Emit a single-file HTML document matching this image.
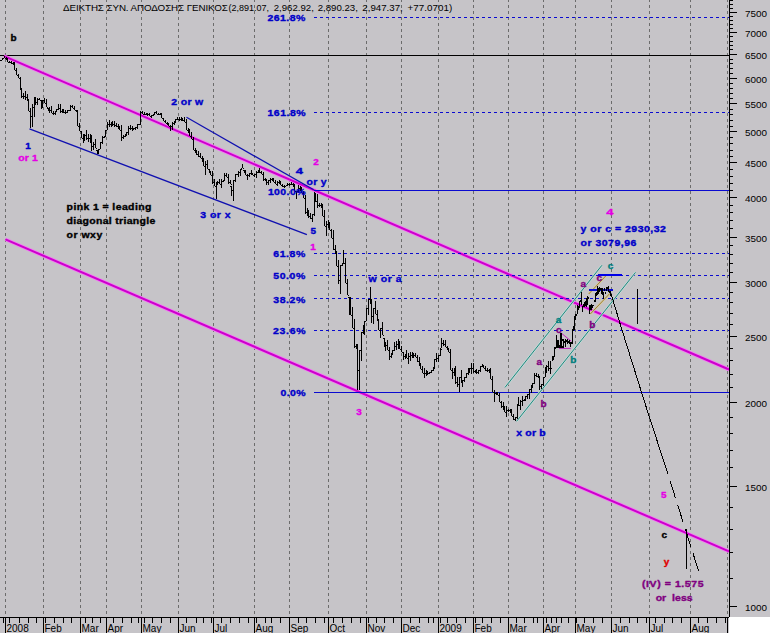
<!DOCTYPE html><html><head><meta charset="utf-8"><style>html,body{margin:0;padding:0;background:#c6c4c8;}svg{display:block}text{font-family:"Liberation Sans",sans-serif;white-space:pre}.b{font-weight:bold;font-size:10.5px;stroke-width:0.4px;stroke-linejoin:round}.r{font-size:10px}</style></head><body>
<svg width="770" height="633" viewBox="0 0 770 633" shape-rendering="crispEdges">
<rect x="0" y="0" width="770" height="633" fill="#c6c4c8"/>
<rect x="729" y="617" width="41" height="16" fill="#ffffff"/>
<path d="M5.5,-1V617 M43.5,-1V617 M80.5,-1V617 M106.5,-1V617 M141.5,-1V617 M178.5,-1V617 M213.5,-1V617 M254.5,-1V617 M289.5,-1V617 M328.5,-1V617 M366.5,-1V617 M401.5,-1V617 M438.5,-1V617 M473.5,-1V617 M508.5,-1V617 M543.5,-1V617 M575.5,-1V617 M611.5,-1V617 M649.5,-1V617 M690.5,-1V617 M727.5,-1V617" stroke="#6c6c6c" stroke-width="1" stroke-dasharray="3 3" fill="none"/>
<rect x="0" y="55" width="729" height="1" fill="#000"/>
<g shape-rendering="auto">
<line x1="4" y1="56.1" x2="729" y2="369.5" stroke="#f27af2" stroke-width="3.6"/>
<line x1="4" y1="56.1" x2="729" y2="369.5" stroke="#cc00cc" stroke-width="2"/>
<line x1="5.5" y1="239.4" x2="729" y2="551.4" stroke="#f27af2" stroke-width="3.6"/>
<line x1="5.5" y1="239.4" x2="729" y2="551.4" stroke="#cc00cc" stroke-width="2"/>
</g>
<path d="M314,17.5H729" stroke="#0a0ad0" stroke-width="1" stroke-dasharray="3 3" fill="none"/>
<path d="M314,112.5H729" stroke="#0a0ad0" stroke-width="1" stroke-dasharray="3 3" fill="none"/>
<path d="M314,253.5H729" stroke="#0a0ad0" stroke-width="1" stroke-dasharray="3 3" fill="none"/>
<path d="M314,275.5H729" stroke="#0a0ad0" stroke-width="1" stroke-dasharray="3 3" fill="none"/>
<path d="M314,298.5H729" stroke="#0a0ad0" stroke-width="1" stroke-dasharray="3 3" fill="none"/>
<path d="M314,330.5H729" stroke="#0a0ad0" stroke-width="1" stroke-dasharray="3 3" fill="none"/>
<rect x="314" y="190" width="415" height="1" fill="#0a0ad0"/>
<rect x="314" y="392" width="415" height="1" fill="#0a0ad0"/>
<g shape-rendering="auto">
<line x1="29.5" y1="128.8" x2="306.9" y2="234.7" stroke="#1010b0" stroke-width="1.25"/>
<line x1="186.5" y1="117.3" x2="313.7" y2="189.8" stroke="#1010b0" stroke-width="1.25"/>
<line x1="505" y1="387.4" x2="601.9" y2="265.3" stroke="#c0dcd8" stroke-width="2.2"/>
<line x1="505" y1="387.4" x2="601.9" y2="265.3" stroke="#107870" stroke-width="0.9"/>
<line x1="516.6" y1="421.3" x2="635.5" y2="272.4" stroke="#c0dcd8" stroke-width="2.2"/>
<line x1="516.6" y1="421.3" x2="635.5" y2="272.4" stroke="#107870" stroke-width="0.9"/>
<line x1="588.7" y1="294" x2="605.7" y2="276" stroke="#d8cc9c" stroke-width="2.4"/>
<line x1="588.7" y1="294" x2="605.7" y2="276" stroke="#9a7c40" stroke-width="1"/>
<line x1="590.3" y1="314" x2="609.8" y2="293.5" stroke="#d8cc9c" stroke-width="2.4"/>
<line x1="590.3" y1="314" x2="609.8" y2="293.5" stroke="#9a7c40" stroke-width="1"/>
<line x1="561.4" y1="333.2" x2="571.3" y2="341.3" stroke="#c020c0" stroke-width="1"/>
<line x1="559" y1="348.4" x2="570.8" y2="348.4" stroke="#c020c0" stroke-width="1"/>
<polyline points="609.7,289.5 622,330 643.9,400 667.8,473.8" stroke="#000" stroke-width="1" fill="none" shape-rendering="crispEdges"/>
<line x1="667.8" y1="473.8" x2="698.5" y2="570.7" stroke="#000" stroke-width="1" stroke-dasharray="18.5 7" stroke-dashoffset="18.5" shape-rendering="crispEdges"/>
</g>
<rect x="637" y="289" width="1" height="35" fill="#000"/>
<rect x="686" y="529" width="1" height="40" fill="#000"/>
<rect x="598" y="274" width="24" height="2" fill="#0000e8"/>
<rect x="589" y="289" width="24" height="2" fill="#0a0ad0"/>
<path d="M0,60h1v1h-1zM1,60h1v1h-1zM1,60h1v1h-1zM2,58h1v2h-1zM3,58h1v1h-1zM3,58h1v1h-1zM4,56h1v2h-1zM5,58h1v1h-1zM5,58h1v1h-1zM6,57h1v2h-1zM6,59h1v1h-1zM7,59h1v1h-1zM7,58h1v4h-1zM8,62h1v1h-1zM8,62h1v1h-1zM9,61h1v2h-1zM10,62h1v1h-1zM10,62h1v1h-1zM11,61h1v3h-1zM12,63h1v1h-1zM12,63h1v1h-1zM13,62h1v2h-1zM13,64h1v1h-1zM14,64h1v1h-1zM14,62h1v8h-1zM15,70h1v1h-1zM15,70h1v1h-1zM16,68h1v7h-1zM17,75h1v1h-1zM17,75h1v1h-1zM18,74h1v4h-1zM19,78h1v1h-1zM19,78h1v1h-1zM20,77h1v12h-1zM20,89h1v1h-1zM21,89h1v1h-1zM21,88h1v10h-1zM22,96h1v1h-1zM22,96h1v1h-1zM23,93h1v6h-1zM24,96h1v1h-1zM24,96h1v1h-1zM25,91h1v9h-1zM26,97h1v1h-1zM26,97h1v1h-1zM27,94h1v6h-1zM27,100h1v1h-1zM28,100h1v1h-1zM28,99h1v12h-1zM29,111h1v1h-1zM29,111h1v1h-1zM30,108h1v20h-1zM31,116h1v1h-1zM31,116h1v1h-1zM32,104h1v23h-1zM33,107h1v1h-1zM33,107h1v1h-1zM34,97h1v20h-1zM34,101h1v1h-1zM35,101h1v1h-1zM35,97h1v8h-1zM36,102h1v1h-1zM36,102h1v1h-1zM37,98h1v7h-1zM38,99h1v1h-1zM38,99h1v1h-1zM39,98h1v2h-1zM40,100h1v1h-1zM40,100h1v1h-1zM41,100h1v9h-1zM41,104h1v1h-1zM42,104h1v1h-1zM42,100h1v8h-1zM43,100h1v1h-1zM43,100h1v1h-1zM44,98h1v5h-1zM45,103h1v1h-1zM45,103h1v1h-1zM46,99h1v8h-1zM47,107h1v1h-1zM47,108h1v1h-1zM48,108h1v3h-1zM48,110h1v1h-1zM49,110h1v1h-1zM49,107h1v6h-1zM50,110h1v1h-1zM50,110h1v1h-1zM51,106h1v7h-1zM52,113h1v1h-1zM52,113h1v1h-1zM53,111h1v4h-1zM54,113h1v1h-1zM54,113h1v1h-1zM55,111h1v4h-1zM55,111h1v1h-1zM56,111h1v1h-1zM56,109h1v2h-1zM57,109h1v1h-1zM57,109h1v1h-1zM58,104h1v6h-1zM59,108h1v1h-1zM59,108h1v1h-1zM60,104h1v9h-1zM61,111h1v1h-1zM61,111h1v1h-1zM62,109h1v4h-1zM62,111h1v1h-1zM63,111h1v1h-1zM63,109h1v4h-1zM64,112h1v1h-1zM64,112h1v1h-1zM65,110h1v4h-1zM66,112h1v1h-1zM66,112h1v1h-1zM67,110h1v3h-1zM68,110h1v1h-1zM68,110h1v1h-1zM69,110h1v1h-1zM69,110h1v1h-1zM70,110h1v1h-1zM70,105h1v5h-1zM71,106h1v1h-1zM71,106h1v1h-1zM72,105h1v3h-1zM73,108h1v1h-1zM73,108h1v1h-1zM74,106h1v4h-1zM75,110h1v1h-1zM75,110h1v1h-1zM76,110h1v1h-1zM76,111h1v1h-1zM77,111h1v1h-1zM77,110h1v16h-1zM78,126h1v1h-1zM78,126h1v1h-1zM79,123h1v8h-1zM80,131h1v1h-1zM80,131h1v1h-1zM81,131h1v7h-1zM82,138h1v1h-1zM82,138h1v1h-1zM83,134h1v9h-1zM83,138h1v1h-1zM84,138h1v1h-1zM84,134h1v7h-1zM85,135h1v1h-1zM85,135h1v1h-1zM86,130h1v10h-1zM87,138h1v1h-1zM87,138h1v1h-1zM88,134h1v8h-1zM89,138h1v1h-1zM89,138h1v1h-1zM90,134h1v8h-1zM90,142h1v1h-1zM91,142h1v1h-1zM91,135h1v16h-1zM92,146h1v1h-1zM92,146h1v1h-1zM93,142h1v8h-1zM94,144h1v1h-1zM94,144h1v1h-1zM95,139h1v9h-1zM96,148h1v1h-1zM96,150h1v1h-1zM97,150h1v4h-1zM97,152h1v1h-1zM98,152h1v1h-1zM98,149h1v5h-1zM99,149h1v1h-1zM99,149h1v1h-1zM100,142h1v7h-1zM101,142h1v1h-1zM101,142h1v1h-1zM102,136h1v8h-1zM103,137h1v1h-1zM103,137h1v1h-1zM104,136h1v2h-1zM104,136h1v1h-1zM105,136h1v1h-1zM105,130h1v7h-1zM106,130h1v1h-1zM106,130h1v1h-1zM107,122h1v8h-1zM108,124h1v1h-1zM108,124h1v1h-1zM109,120h1v7h-1zM110,124h1v1h-1zM110,124h1v1h-1zM111,122h1v5h-1zM111,124h1v1h-1zM112,124h1v1h-1zM112,121h1v5h-1zM113,124h1v1h-1zM113,124h1v1h-1zM114,121h1v6h-1zM115,125h1v1h-1zM115,125h1v1h-1zM116,123h1v4h-1zM117,126h1v1h-1zM117,126h1v1h-1zM118,124h1v4h-1zM118,128h1v1h-1zM119,128h1v1h-1zM119,126h1v4h-1zM120,130h1v1h-1zM120,130h1v1h-1zM121,125h1v16h-1zM122,137h1v1h-1zM122,137h1v1h-1zM123,135h1v4h-1zM124,136h1v1h-1zM124,136h1v1h-1zM125,134h1v3h-1zM125,134h1v1h-1zM126,134h1v1h-1zM126,132h1v4h-1zM127,132h1v1h-1zM127,132h1v1h-1zM128,126h1v9h-1zM129,128h1v1h-1zM129,128h1v1h-1zM130,125h1v5h-1zM131,128h1v1h-1zM131,128h1v1h-1zM132,126h1v5h-1zM132,129h1v1h-1zM133,129h1v1h-1zM133,128h1v2h-1zM134,128h1v1h-1zM134,128h1v1h-1zM135,127h1v3h-1zM136,127h1v1h-1zM136,127h1v1h-1zM137,124h1v5h-1zM138,124h1v1h-1zM138,124h1v1h-1zM139,124h1v1h-1zM139,124h1v1h-1zM140,124h1v1h-1zM140,111h1v13h-1zM141,112h1v1h-1zM141,112h1v1h-1zM142,111h1v3h-1zM143,114h1v1h-1zM143,114h1v1h-1zM144,112h1v3h-1zM145,114h1v1h-1zM145,114h1v1h-1zM146,113h1v2h-1zM146,114h1v1h-1zM147,114h1v1h-1zM147,113h1v3h-1zM148,114h1v1h-1zM148,114h1v1h-1zM149,113h1v3h-1zM150,116h1v1h-1zM150,116h1v1h-1zM151,115h1v3h-1zM152,115h1v1h-1zM152,115h1v1h-1zM153,114h1v2h-1zM153,114h1v1h-1zM154,114h1v1h-1zM154,112h1v3h-1zM155,112h1v1h-1zM155,112h1v1h-1zM156,111h1v3h-1zM157,114h1v1h-1zM157,114h1v1h-1zM158,113h1v2h-1zM159,114h1v1h-1zM159,114h1v1h-1zM160,113h1v1h-1zM160,114h1v1h-1zM161,114h1v1h-1zM161,113h1v5h-1zM162,118h1v1h-1zM162,118h1v1h-1zM163,118h1v3h-1zM164,121h1v1h-1zM164,121h1v1h-1zM165,120h1v3h-1zM166,123h1v1h-1zM166,123h1v1h-1zM167,122h1v2h-1zM167,124h1v1h-1zM168,124h1v1h-1zM168,123h1v3h-1zM169,126h1v1h-1zM169,126h1v1h-1zM170,125h1v6h-1zM171,126h1v1h-1zM171,126h1v1h-1zM172,122h1v8h-1zM173,123h1v1h-1zM173,123h1v1h-1zM174,121h1v4h-1zM174,121h1v1h-1zM175,121h1v1h-1zM175,119h1v4h-1zM176,119h1v1h-1zM176,119h1v1h-1zM177,117h1v3h-1zM178,119h1v1h-1zM178,119h1v1h-1zM179,117h1v4h-1zM180,119h1v1h-1zM180,119h1v1h-1zM181,117h1v4h-1zM181,120h1v1h-1zM182,120h1v1h-1zM182,118h1v3h-1zM183,120h1v1h-1zM183,120h1v1h-1zM184,117h1v5h-1zM185,122h1v1h-1zM185,122h1v1h-1zM186,119h1v11h-1zM187,130h1v1h-1zM187,130h1v1h-1zM188,128h1v4h-1zM188,132h1v1h-1zM189,132h1v1h-1zM189,129h1v7h-1zM190,136h1v1h-1zM190,136h1v1h-1zM191,132h1v7h-1zM192,139h1v1h-1zM192,139h1v1h-1zM193,137h1v13h-1zM194,150h1v1h-1zM194,150h1v1h-1zM195,148h1v5h-1zM195,152h1v1h-1zM196,152h1v1h-1zM196,150h1v5h-1zM197,154h1v1h-1zM197,154h1v1h-1zM198,151h1v6h-1zM199,156h1v1h-1zM199,156h1v1h-1zM200,153h1v5h-1zM201,158h1v1h-1zM201,158h1v1h-1zM202,156h1v5h-1zM202,161h1v1h-1zM203,161h1v1h-1zM203,158h1v8h-1zM204,166h1v1h-1zM204,166h1v1h-1zM205,161h1v14h-1zM206,164h1v1h-1zM206,164h1v1h-1zM207,160h1v9h-1zM208,169h1v1h-1zM208,169h1v1h-1zM209,169h1v3h-1zM209,172h1v1h-1zM210,172h1v1h-1zM210,171h1v4h-1zM211,175h1v1h-1zM211,175h1v1h-1zM212,171h1v13h-1zM213,182h1v1h-1zM213,182h1v1h-1zM214,179h1v7h-1zM215,186h1v1h-1zM215,186h1v1h-1zM216,182h1v17h-1zM216,183h1v1h-1zM217,183h1v1h-1zM217,181h1v4h-1zM218,182h1v1h-1zM218,182h1v1h-1zM219,179h1v5h-1zM220,184h1v1h-1zM220,184h1v1h-1zM221,179h1v9h-1zM222,181h1v1h-1zM222,181h1v1h-1zM223,180h1v2h-1zM223,180h1v1h-1zM224,180h1v1h-1zM224,173h1v7h-1zM225,175h1v1h-1zM225,175h1v1h-1zM226,173h1v4h-1zM227,177h1v1h-1zM227,177h1v1h-1zM228,174h1v10h-1zM229,182h1v1h-1zM229,182h1v1h-1zM230,180h1v4h-1zM230,186h1v1h-1zM231,184h1v1h-1zM231,186h1v10h-1zM232,190h1v1h-1zM232,190h1v1h-1zM233,180h1v21h-1zM234,180h1v1h-1zM234,180h1v1h-1zM235,174h1v8h-1zM236,174h1v1h-1zM236,174h1v1h-1zM237,174h1v1h-1zM237,174h1v1h-1zM238,174h1v1h-1zM238,171h1v6h-1zM239,172h1v1h-1zM239,172h1v1h-1zM240,169h1v7h-1zM241,169h1v1h-1zM241,168h1v1h-1zM242,164h1v4h-1zM243,168h1v1h-1zM243,170h1v1h-1zM244,170h1v2h-1zM244,172h1v1h-1zM245,172h1v1h-1zM245,170h1v5h-1zM246,175h1v1h-1zM246,175h1v1h-1zM247,174h1v6h-1zM248,175h1v1h-1zM248,175h1v1h-1zM249,173h1v4h-1zM250,173h1v1h-1zM250,173h1v1h-1zM251,170h1v4h-1zM251,174h1v1h-1zM252,174h1v1h-1zM252,173h1v2h-1zM253,175h1v1h-1zM253,175h1v1h-1zM254,174h1v3h-1zM255,174h1v1h-1zM255,174h1v1h-1zM256,171h1v7h-1zM257,172h1v1h-1zM257,172h1v1h-1zM258,170h1v3h-1zM258,170h1v1h-1zM259,170h1v1h-1zM259,168h1v5h-1zM260,172h1v1h-1zM260,172h1v1h-1zM261,171h1v3h-1zM262,174h1v1h-1zM262,174h1v1h-1zM263,172h1v9h-1zM264,179h1v1h-1zM264,179h1v1h-1zM265,178h1v2h-1zM265,180h1v1h-1zM266,180h1v1h-1zM266,179h1v6h-1zM267,182h1v1h-1zM267,182h1v1h-1zM268,180h1v5h-1zM269,180h1v1h-1zM269,180h1v1h-1zM270,178h1v5h-1zM271,179h1v1h-1zM271,179h1v1h-1zM272,178h1v2h-1zM272,180h1v1h-1zM273,180h1v1h-1zM273,178h1v4h-1zM274,182h1v1h-1zM274,182h1v1h-1zM275,180h1v4h-1zM276,184h1v1h-1zM276,184h1v1h-1zM277,181h1v5h-1zM278,182h1v1h-1zM278,182h1v1h-1zM279,180h1v4h-1zM279,183h1v1h-1zM280,183h1v1h-1zM280,181h1v4h-1zM281,185h1v1h-1zM281,185h1v1h-1zM282,184h1v3h-1zM283,186h1v1h-1zM283,186h1v1h-1zM284,185h1v3h-1zM285,186h1v1h-1zM285,186h1v1h-1zM286,185h1v1h-1zM286,185h1v1h-1zM287,185h1v1h-1zM287,183h1v3h-1zM288,184h1v1h-1zM288,184h1v1h-1zM289,183h1v3h-1zM290,184h1v1h-1zM290,184h1v1h-1zM291,182h1v3h-1zM292,184h1v1h-1zM292,184h1v1h-1zM293,183h1v3h-1zM293,186h1v1h-1zM294,186h1v1h-1zM294,184h1v7h-1zM295,191h1v1h-1zM295,191h1v1h-1zM296,191h1v8h-1zM297,191h1v1h-1zM297,191h1v1h-1zM298,185h1v8h-1zM299,188h1v1h-1zM299,188h1v1h-1zM300,186h1v5h-1zM300,190h1v1h-1zM301,190h1v1h-1zM301,187h1v6h-1zM302,193h1v1h-1zM302,193h1v1h-1zM303,191h1v7h-1zM304,198h1v1h-1zM304,198h1v1h-1zM305,195h1v19h-1zM306,212h1v1h-1zM306,212h1v1h-1zM307,208h1v8h-1zM307,214h1v1h-1zM308,214h1v1h-1zM308,210h1v8h-1zM309,216h1v1h-1zM309,216h1v1h-1zM310,213h1v6h-1zM311,218h1v1h-1zM311,218h1v1h-1zM312,214h1v8h-1zM313,214h1v1h-1zM313,214h1v1h-1zM314,192h1v24h-1zM314,198h1v1h-1zM315,198h1v1h-1zM315,193h1v9h-1zM316,201h1v1h-1zM316,201h1v1h-1zM317,194h1v14h-1zM318,205h1v1h-1zM318,205h1v1h-1zM319,203h1v4h-1zM320,205h1v1h-1zM320,205h1v1h-1zM321,203h1v4h-1zM321,207h1v1h-1zM322,207h1v1h-1zM322,204h1v12h-1zM323,216h1v1h-1zM323,216h1v1h-1zM324,210h1v16h-1zM325,226h1v1h-1zM325,226h1v1h-1zM326,221h1v15h-1zM327,224h1v1h-1zM327,224h1v1h-1zM328,220h1v8h-1zM328,226h1v1h-1zM329,226h1v1h-1zM329,222h1v8h-1zM330,230h1v1h-1zM330,230h1v1h-1zM331,229h1v9h-1zM332,238h1v1h-1zM332,238h1v1h-1zM333,230h1v20h-1zM334,249h1v1h-1zM334,249h1v1h-1zM335,245h1v8h-1zM335,253h1v1h-1zM336,253h1v1h-1zM336,251h1v15h-1zM337,266h1v1h-1zM337,266h1v1h-1zM338,260h1v24h-1zM339,280h1v1h-1zM339,280h1v1h-1zM340,265h1v29h-1zM341,265h1v1h-1zM341,265h1v1h-1zM342,263h1v3h-1zM342,263h1v1h-1zM343,263h1v1h-1zM343,250h1v13h-1zM344,263h1v1h-1zM344,263h1v1h-1zM345,258h1v25h-1zM346,283h1v1h-1zM346,283h1v1h-1zM347,279h1v16h-1zM348,295h1v1h-1zM348,297h1v1h-1zM349,297h1v18h-1zM349,306h1v1h-1zM350,306h1v1h-1zM350,297h1v18h-1zM351,315h1v1h-1zM351,315h1v1h-1zM352,307h1v21h-1zM353,328h1v1h-1zM353,328h1v1h-1zM354,319h1v29h-1zM355,346h1v1h-1zM355,346h1v1h-1zM356,344h1v4h-1zM356,348h1v1h-1zM357,348h1v1h-1zM357,344h1v46h-1zM358,370h1v1h-1zM358,370h1v1h-1zM359,350h1v40h-1zM360,350h1v1h-1zM360,350h1v1h-1zM361,332h1v29h-1zM362,332h1v1h-1zM362,332h1v1h-1zM363,325h1v9h-1zM363,328h1v1h-1zM364,328h1v1h-1zM364,321h1v14h-1zM365,321h1v1h-1zM365,321h1v1h-1zM366,308h1v13h-1zM367,308h1v1h-1zM367,308h1v1h-1zM368,299h1v16h-1zM369,299h1v1h-1zM369,299h1v1h-1zM370,287h1v16h-1zM370,303h1v1h-1zM371,303h1v1h-1zM371,299h1v24h-1zM372,316h1v1h-1zM372,316h1v1h-1zM373,308h1v16h-1zM374,308h1v1h-1zM374,308h1v1h-1zM375,301h1v13h-1zM376,314h1v1h-1zM376,314h1v1h-1zM377,310h1v10h-1zM377,320h1v1h-1zM378,320h1v1h-1zM378,319h1v11h-1zM379,330h1v1h-1zM379,330h1v1h-1zM380,328h1v10h-1zM381,328h1v1h-1zM381,328h1v1h-1zM382,322h1v13h-1zM383,335h1v1h-1zM383,338h1v1h-1zM384,338h1v9h-1zM384,346h1v1h-1zM385,346h1v1h-1zM385,342h1v9h-1zM386,345h1v1h-1zM386,345h1v1h-1zM387,340h1v10h-1zM388,350h1v1h-1zM388,350h1v1h-1zM389,347h1v13h-1zM390,356h1v1h-1zM390,356h1v1h-1zM391,353h1v5h-1zM391,353h1v1h-1zM392,353h1v1h-1zM392,350h1v5h-1zM393,350h1v1h-1zM393,350h1v1h-1zM394,342h1v9h-1zM395,346h1v1h-1zM395,346h1v1h-1zM396,341h1v9h-1zM397,344h1v1h-1zM397,344h1v1h-1zM398,339h1v10h-1zM398,345h1v1h-1zM399,345h1v1h-1zM399,341h1v8h-1zM400,349h1v1h-1zM400,349h1v1h-1zM401,346h1v6h-1zM402,352h1v1h-1zM402,352h1v1h-1zM403,352h1v8h-1zM404,356h1v1h-1zM404,356h1v1h-1zM405,354h1v5h-1zM405,354h1v1h-1zM406,354h1v1h-1zM406,350h1v8h-1zM407,358h1v1h-1zM407,358h1v1h-1zM408,353h1v11h-1zM409,356h1v1h-1zM409,356h1v1h-1zM410,352h1v9h-1zM411,355h1v1h-1zM411,355h1v1h-1zM412,352h1v6h-1zM412,356h1v1h-1zM413,356h1v1h-1zM413,353h1v5h-1zM414,355h1v1h-1zM414,355h1v1h-1zM415,353h1v4h-1zM416,357h1v1h-1zM416,357h1v1h-1zM417,355h1v7h-1zM418,361h1v1h-1zM418,361h1v1h-1zM419,357h1v8h-1zM419,365h1v1h-1zM420,365h1v1h-1zM420,363h1v6h-1zM421,369h1v1h-1zM421,369h1v1h-1zM422,366h1v7h-1zM423,373h1v1h-1zM423,373h1v1h-1zM424,368h1v10h-1zM425,373h1v1h-1zM425,373h1v1h-1zM426,370h1v6h-1zM426,373h1v1h-1zM427,373h1v1h-1zM427,371h1v4h-1zM428,373h1v1h-1zM428,373h1v1h-1zM429,372h1v2h-1zM430,372h1v1h-1zM430,372h1v1h-1zM431,370h1v3h-1zM432,370h1v1h-1zM432,370h1v1h-1zM433,367h1v4h-1zM433,367h1v1h-1zM434,367h1v1h-1zM434,359h1v10h-1zM435,359h1v1h-1zM435,359h1v1h-1zM436,353h1v9h-1zM437,358h1v1h-1zM437,358h1v1h-1zM438,355h1v7h-1zM439,355h1v1h-1zM439,355h1v1h-1zM440,349h1v7h-1zM440,348h1v1h-1zM441,349h1v1h-1zM441,338h1v10h-1zM442,343h1v1h-1zM442,343h1v1h-1zM443,340h1v6h-1zM444,344h1v1h-1zM444,344h1v1h-1zM445,340h1v7h-1zM446,347h1v1h-1zM446,347h1v1h-1zM447,346h1v3h-1zM447,349h1v1h-1zM448,349h1v1h-1zM448,348h1v4h-1zM449,352h1v1h-1zM449,352h1v1h-1zM450,349h1v21h-1zM451,370h1v1h-1zM451,370h1v1h-1zM452,368h1v11h-1zM453,372h1v1h-1zM453,372h1v1h-1zM454,368h1v7h-1zM454,375h1v1h-1zM455,375h1v1h-1zM455,366h1v18h-1zM456,382h1v1h-1zM456,382h1v1h-1zM457,377h1v10h-1zM458,384h1v1h-1zM458,384h1v1h-1zM459,377h1v15h-1zM460,377h1v1h-1zM460,377h1v1h-1zM461,370h1v12h-1zM461,382h1v1h-1zM462,382h1v1h-1zM462,380h1v7h-1zM463,380h1v1h-1zM463,380h1v1h-1zM464,377h1v5h-1zM465,377h1v1h-1zM465,377h1v1h-1zM466,373h1v5h-1zM467,373h1v1h-1zM467,373h1v1h-1zM468,368h1v7h-1zM468,370h1v1h-1zM469,370h1v1h-1zM469,368h1v5h-1zM470,368h1v1h-1zM470,368h1v1h-1zM471,363h1v11h-1zM472,368h1v1h-1zM472,368h1v1h-1zM473,363h1v10h-1zM474,371h1v1h-1zM474,371h1v1h-1zM475,370h1v2h-1zM475,372h1v1h-1zM476,372h1v1h-1zM476,369h1v5h-1zM477,372h1v1h-1zM477,372h1v1h-1zM478,370h1v4h-1zM479,370h1v1h-1zM479,370h1v1h-1zM480,366h1v6h-1zM481,366h1v1h-1zM481,366h1v1h-1zM482,364h1v3h-1zM482,366h1v1h-1zM483,366h1v1h-1zM483,365h1v3h-1zM484,368h1v1h-1zM484,368h1v1h-1zM485,366h1v5h-1zM486,370h1v1h-1zM486,370h1v1h-1zM487,368h1v4h-1zM488,370h1v1h-1zM488,370h1v1h-1zM489,369h1v3h-1zM489,372h1v1h-1zM490,372h1v1h-1zM490,368h1v11h-1zM491,379h1v1h-1zM491,379h1v1h-1zM492,376h1v16h-1zM493,392h1v1h-1zM493,392h1v1h-1zM494,390h1v12h-1zM495,393h1v1h-1zM495,393h1v1h-1zM496,392h1v2h-1zM496,394h1v1h-1zM497,394h1v1h-1zM497,392h1v3h-1zM498,395h1v1h-1zM498,395h1v1h-1zM499,393h1v9h-1zM500,402h1v1h-1zM500,402h1v1h-1zM501,401h1v7h-1zM502,406h1v1h-1zM502,406h1v1h-1zM503,402h1v8h-1zM503,409h1v1h-1zM504,409h1v1h-1zM504,406h1v6h-1zM505,412h1v1h-1zM505,412h1v1h-1zM506,406h1v11h-1zM507,410h1v1h-1zM507,410h1v1h-1zM508,409h1v3h-1zM509,410h1v1h-1zM509,410h1v1h-1zM510,409h1v3h-1zM510,412h1v1h-1zM511,412h1v1h-1zM511,409h1v7h-1zM512,416h1v1h-1zM512,416h1v1h-1zM513,414h1v6h-1zM514,419h1v1h-1zM514,419h1v1h-1zM515,417h1v4h-1zM516,417h1v1h-1zM516,417h1v1h-1zM517,404h1v15h-1zM517,404h1v1h-1zM518,404h1v1h-1zM518,397h1v9h-1zM519,405h1v1h-1zM519,405h1v1h-1zM520,400h1v10h-1zM521,401h1v1h-1zM521,401h1v1h-1zM522,396h1v10h-1zM523,400h1v1h-1zM523,400h1v1h-1zM524,399h1v2h-1zM524,399h1v1h-1zM525,399h1v1h-1zM525,396h1v5h-1zM526,396h1v1h-1zM526,396h1v1h-1zM527,394h1v5h-1zM528,394h1v1h-1zM528,394h1v1h-1zM529,389h1v10h-1zM530,389h1v1h-1zM530,389h1v1h-1zM531,385h1v8h-1zM531,386h1v1h-1zM532,386h1v1h-1zM532,383h1v5h-1zM533,383h1v1h-1zM533,383h1v1h-1zM534,373h1v11h-1zM535,375h1v1h-1zM535,375h1v1h-1zM536,373h1v4h-1zM537,376h1v1h-1zM537,376h1v1h-1zM538,374h1v3h-1zM538,377h1v1h-1zM539,377h1v1h-1zM539,376h1v14h-1zM540,386h1v1h-1zM540,386h1v1h-1zM541,384h1v5h-1zM542,384h1v1h-1zM542,384h1v1h-1zM543,377h1v9h-1zM544,377h1v1h-1zM544,377h1v1h-1zM545,367h1v10h-1zM545,369h1v1h-1zM546,369h1v1h-1zM546,365h1v8h-1zM547,366h1v1h-1zM547,366h1v1h-1zM548,361h1v10h-1zM549,368h1v1h-1zM549,368h1v1h-1zM550,361h1v13h-1zM551,368h1v1h-1zM552,356h1v5h-1zM553,356h1v4h-1zM554,347h1v10h-1zM555,347h1v2h-1zM556,335h1v13h-1zM557,340h1v8h-1zM558,340h1v8h-1zM559,345h1v3h-1zM560,333h1v15h-1zM561,333h1v15h-1zM562,339h1v2h-1zM562,346h1v2h-1zM563,339h1v9h-1zM564,341h1v2h-1zM565,339h1v8h-1zM566,340h1v2h-1zM567,339h1v5h-1zM568,341h1v2h-1zM569,340h1v4h-1zM570,342h1v5h-1zM571,342h1v2h-1zM572,329h1v15h-1zM573,326h1v5h-1zM574,316h1v14h-1zM575,314h1v6h-1zM576,314h1v2h-1zM577,305h1v9h-1zM578,306h1v4h-1zM579,301h1v7h-1zM580,300h1v2h-1zM581,292h1v13h-1zM582,306h1v6h-1zM583,304h1v3h-1zM584,302h1v5h-1zM585,301h1v5h-1zM586,298h1v9h-1zM587,296h1v9h-1zM588,297h1v2h-1zM589,305h1v9h-1zM590,305h1v5h-1zM591,304h1v6h-1zM592,305h1v3h-1zM593,305h1v1h-1zM594,300h1v2h-1zM595,293h1v9h-1zM596,292h1v4h-1zM597,286h1v9h-1zM598,288h1v6h-1zM599,287h1v5h-1zM600,288h1v2h-1zM601,288h1v6h-1zM602,288h1v7h-1zM603,292h1v7h-1zM604,288h1v3h-1zM605,292h1v2h-1zM606,287h1v4h-1zM607,287h1v2h-1zM608,286h1v6h-1zM609,291h1v2h-1zM610,293h1v3h-1z" fill="#000"/>
<rect x="729" y="0" width="1" height="617" fill="#000"/>
<rect x="0" y="617" width="729" height="1" fill="#000"/>
<path d="M730,606h7v1h-7zM730,578h3v1h-3zM730,552h3v1h-3zM730,529h3v1h-3zM730,507h3v1h-3zM730,486h7v1h-7zM730,467h3v1h-3zM730,450h3v1h-3zM730,433h3v1h-3zM730,417h3v1h-3zM730,402h7v1h-7zM730,387h3v1h-3zM730,374h3v1h-3zM730,360h3v1h-3zM730,348h3v1h-3zM730,336h7v1h-7zM730,324h3v1h-3zM730,313h3v1h-3zM730,302h3v1h-3zM730,292h3v1h-3zM730,282h7v1h-7zM730,272h3v1h-3zM730,263h3v1h-3zM730,254h3v1h-3zM730,245h3v1h-3zM730,237h7v1h-7zM730,228h3v1h-3zM730,220h3v1h-3zM730,212h3v1h-3zM730,205h3v1h-3zM730,197h7v1h-7zM730,190h3v1h-3zM730,183h3v1h-3zM730,176h3v1h-3zM730,169h3v1h-3zM730,162h7v1h-7zM730,156h3v1h-3zM730,150h3v1h-3zM730,143h3v1h-3zM730,137h3v1h-3zM730,131h7v1h-7zM730,126h3v1h-3zM730,120h3v1h-3zM730,114h3v1h-3zM730,109h3v1h-3zM730,103h7v1h-7zM730,98h3v1h-3zM730,93h3v1h-3zM730,88h3v1h-3zM730,83h3v1h-3zM730,78h7v1h-7zM730,73h3v1h-3zM730,68h3v1h-3zM730,63h3v1h-3zM730,59h3v1h-3zM730,54h7v1h-7zM730,49h3v1h-3zM730,45h3v1h-3zM730,41h3v1h-3zM730,36h3v1h-3zM730,32h7v1h-7zM730,28h3v1h-3zM730,24h3v1h-3zM730,20h3v1h-3zM730,16h3v1h-3zM730,12h7v1h-7zM730,8h3v1h-3zM730,4h3v1h-3zM730,0h3v1h-3z" fill="#000"/>
<text x="745" y="611" fill="#000" style="font-size:9.4px" textLength="22" lengthAdjust="spacingAndGlyphs">1000</text>
<text x="745" y="491" fill="#000" style="font-size:9.4px" textLength="22" lengthAdjust="spacingAndGlyphs">1500</text>
<text x="745" y="407" fill="#000" style="font-size:9.4px" textLength="22" lengthAdjust="spacingAndGlyphs">2000</text>
<text x="745" y="341" fill="#000" style="font-size:9.4px" textLength="22" lengthAdjust="spacingAndGlyphs">2500</text>
<text x="745" y="287" fill="#000" style="font-size:9.4px" textLength="22" lengthAdjust="spacingAndGlyphs">3000</text>
<text x="745" y="242" fill="#000" style="font-size:9.4px" textLength="22" lengthAdjust="spacingAndGlyphs">3500</text>
<text x="745" y="202" fill="#000" style="font-size:9.4px" textLength="22" lengthAdjust="spacingAndGlyphs">4000</text>
<text x="745" y="167" fill="#000" style="font-size:9.4px" textLength="22" lengthAdjust="spacingAndGlyphs">4500</text>
<text x="745" y="136" fill="#000" style="font-size:9.4px" textLength="22" lengthAdjust="spacingAndGlyphs">5000</text>
<text x="745" y="108" fill="#000" style="font-size:9.4px" textLength="22" lengthAdjust="spacingAndGlyphs">5500</text>
<text x="745" y="83" fill="#000" style="font-size:9.4px" textLength="22" lengthAdjust="spacingAndGlyphs">6000</text>
<text x="745" y="59" fill="#000" style="font-size:9.4px" textLength="22" lengthAdjust="spacingAndGlyphs">6500</text>
<text x="745" y="37" fill="#000" style="font-size:9.4px" textLength="22" lengthAdjust="spacingAndGlyphs">7000</text>
<text x="745" y="17" fill="#000" style="font-size:9.4px" textLength="22" lengthAdjust="spacingAndGlyphs">7500</text>
<path d="M5,618h1v15h-1zM43,618h1v15h-1zM80,618h1v15h-1zM106,618h1v15h-1zM141,618h1v15h-1zM178,618h1v15h-1zM213,618h1v15h-1zM254,618h1v15h-1zM289,618h1v15h-1zM328,618h1v15h-1zM366,618h1v15h-1zM401,618h1v15h-1zM438,618h1v15h-1zM473,618h1v15h-1zM508,618h1v15h-1zM543,618h1v15h-1zM575,618h1v15h-1zM611,618h1v15h-1zM649,618h1v15h-1zM690,618h1v15h-1zM727,618h1v15h-1zM3,618h1v5h-1zM9,618h1v5h-1zM19,618h1v5h-1zM28,618h1v5h-1zM36,618h1v5h-1zM45,618h1v5h-1zM54,618h1v5h-1zM63,618h1v5h-1zM71,618h1v5h-1zM85,618h1v5h-1zM92,618h1v5h-1zM100,618h1v5h-1zM113,618h1v5h-1zM122,618h1v5h-1zM131,618h1v5h-1zM138,618h1v5h-1zM144,618h1v5h-1zM152,618h1v5h-1zM161,618h1v5h-1zM170,618h1v5h-1zM186,618h1v5h-1zM196,618h1v5h-1zM203,618h1v5h-1zM211,618h1v5h-1zM221,618h1v5h-1zM230,618h1v5h-1zM239,618h1v5h-1zM248,618h1v5h-1zM256,618h1v5h-1zM265,618h1v5h-1zM271,618h1v5h-1zM280,618h1v5h-1zM298,618h1v5h-1zM306,618h1v5h-1zM315,618h1v5h-1zM324,618h1v5h-1zM333,618h1v5h-1zM342,618h1v5h-1zM351,618h1v5h-1zM360,618h1v5h-1zM368,618h1v5h-1zM376,618h1v5h-1zM384,618h1v5h-1zM393,618h1v5h-1zM410,618h1v5h-1zM419,618h1v5h-1zM428,618h1v5h-1zM433,618h1v5h-1zM440,618h1v5h-1zM447,618h1v5h-1zM456,618h1v5h-1zM465,618h1v5h-1zM475,618h1v5h-1zM482,618h1v5h-1zM491,618h1v5h-1zM500,618h1v5h-1zM516,618h1v5h-1zM524,618h1v5h-1zM533,618h1v5h-1zM537,618h1v5h-1zM546,618h1v5h-1zM551,618h1v5h-1zM556,618h1v5h-1zM561,618h1v5h-1zM568,618h1v5h-1zM576,618h1v5h-1zM584,618h1v5h-1zM593,618h1v5h-1zM602,618h1v5h-1zM620,618h1v5h-1zM629,618h1v5h-1zM637,618h1v5h-1zM646,618h1v5h-1zM655,618h1v5h-1zM664,618h1v5h-1zM672,618h1v5h-1zM681,618h1v5h-1zM698,618h1v5h-1zM707,618h1v5h-1zM716,618h1v5h-1zM725,618h1v5h-1z" fill="#000"/>
<text class="r" x="6.5" y="632" fill="#000">2008</text>
<text class="r" x="44.5" y="632" fill="#000">Feb</text>
<text class="r" x="81.5" y="632" fill="#000">Mar</text>
<text class="r" x="107.5" y="632" fill="#000">Apr</text>
<text class="r" x="142.5" y="632" fill="#000">May</text>
<text class="r" x="179.5" y="632" fill="#000">Jun</text>
<text class="r" x="214.5" y="632" fill="#000">Jul</text>
<text class="r" x="255.5" y="632" fill="#000">Aug</text>
<text class="r" x="290.5" y="632" fill="#000">Sep</text>
<text class="r" x="329.5" y="632" fill="#000">Oct</text>
<text class="r" x="367.5" y="632" fill="#000">Nov</text>
<text class="r" x="402.5" y="632" fill="#000">Dec</text>
<text class="r" x="439.5" y="632" fill="#000">2009</text>
<text class="r" x="474.5" y="632" fill="#000">Feb</text>
<text class="r" x="509.5" y="632" fill="#000">Mar</text>
<text class="r" x="544.5" y="632" fill="#000">Apr</text>
<text class="r" x="576.5" y="632" fill="#000">May</text>
<text class="r" x="612.5" y="632" fill="#000">Jun</text>
<text class="r" x="650.5" y="632" fill="#000">Jul</text>
<text class="r" x="691.5" y="632" fill="#000">Aug</text>
<text x="63" y="11" style="font-size:9.8px" fill="#000" textLength="164.8" lengthAdjust="spacing">ΔΕΙΚΤΗΣ ΣΥΝ. ΑΠΟΔΟΣΗΣ ΓΕΝΙΚΟΣ</text>
<text x="228.4" y="11" style="font-size:9.8px" fill="#000" textLength="40.5" lengthAdjust="spacingAndGlyphs">(2,891.07,</text>
<text x="273.7" y="11" style="font-size:9.8px" fill="#000" textLength="40.2" lengthAdjust="spacingAndGlyphs">2,962.92,</text>
<text x="317.7" y="11" style="font-size:9.8px" fill="#000" textLength="40.2" lengthAdjust="spacingAndGlyphs">2,890.23,</text>
<text x="362.3" y="11" style="font-size:9.8px" fill="#000" textLength="40.5" lengthAdjust="spacingAndGlyphs">2,947.37,</text>
<text x="407.6" y="11" style="font-size:9.8px" fill="#000" textLength="44.6" lengthAdjust="spacingAndGlyphs">+77.0701)</text>
<text class="b" transform="translate(267.4,21) scale(1,0.9)" fill="#0000c8" stroke="#0000c8" textLength="37.9" lengthAdjust="spacing" xml:space="preserve">261.8%</text>
<text class="b" transform="translate(267.5,116) scale(1,0.9)" fill="#0000c8" stroke="#0000c8" textLength="38.2" lengthAdjust="spacing" xml:space="preserve">161.8%</text>
<text class="b" transform="translate(267.9,195) scale(1,0.9)" fill="#0000c8" stroke="#0000c8" textLength="37.6" lengthAdjust="spacing" xml:space="preserve">100.0%</text>
<text class="b" transform="translate(273.3,257) scale(1,0.9)" fill="#0000c8" stroke="#0000c8" textLength="32.0" lengthAdjust="spacing" xml:space="preserve">61.8%</text>
<text class="b" transform="translate(273.3,279) scale(1,0.9)" fill="#0000c8" stroke="#0000c8" textLength="32.0" lengthAdjust="spacing" xml:space="preserve">50.0%</text>
<text class="b" transform="translate(273.3,303) scale(1,0.9)" fill="#0000c8" stroke="#0000c8" textLength="32.0" lengthAdjust="spacing" xml:space="preserve">38.2%</text>
<text class="b" transform="translate(273.0,334) scale(1,0.9)" fill="#0000c8" stroke="#0000c8" textLength="32.5" lengthAdjust="spacing" xml:space="preserve">23.6%</text>
<text class="b" transform="translate(280.5,396) scale(1,0.9)" fill="#0000c8" stroke="#0000c8" textLength="25.0" lengthAdjust="spacing" xml:space="preserve">0.0%</text>
<text class="b" transform="translate(10.4,41) scale(0.95,0.9)" fill="#000" stroke="#000">b</text>
<text class="b" transform="translate(25.3,149) scale(0.95,0.9)" fill="#0000c8" stroke="#0000c8">1</text>
<text class="b" transform="translate(18.3,161) scale(1,0.9)" fill="#e400e4" stroke="#e400e4" textLength="19.5" lengthAdjust="spacing" xml:space="preserve">or 1</text>
<text class="b" transform="translate(66.6,210) scale(1,0.9)" fill="#000" stroke="#000" textLength="84.8" lengthAdjust="spacing" xml:space="preserve">pink 1 = leading</text>
<text class="b" transform="translate(66.5,224) scale(1,0.9)" fill="#000" stroke="#000" textLength="88.8" lengthAdjust="spacing" xml:space="preserve">diagonal triangle</text>
<text class="b" transform="translate(66.5,238) scale(1,0.9)" fill="#000" stroke="#000" textLength="35.8" lengthAdjust="spacing" xml:space="preserve">or wxy</text>
<text class="b" transform="translate(171.3,105) scale(1,0.9)" fill="#0000c8" stroke="#0000c8" textLength="31.9" lengthAdjust="spacing" xml:space="preserve">2 or w</text>
<text class="b" transform="translate(200.3,218) scale(1,0.9)" fill="#0000c8" stroke="#0000c8" textLength="30.3" lengthAdjust="spacing" xml:space="preserve">3 or x</text>
<text class="b" transform="translate(295.7,174) scale(1.23,0.9)" fill="#0000c8" stroke="#0000c8">4</text>
<text class="b" transform="translate(306.5,185) scale(1,0.9)" fill="#0000c8" stroke="#0000c8" textLength="20.0" lengthAdjust="spacing" xml:space="preserve">or y</text>
<text class="b" transform="translate(313.2,165) scale(0.95,0.9)" fill="#e400e4" stroke="#e400e4">2</text>
<text class="b" transform="translate(310.5,234) scale(0.95,0.9)" fill="#0000c8" stroke="#0000c8">5</text>
<text class="b" transform="translate(310.3,250) scale(0.95,0.9)" fill="#e400e4" stroke="#e400e4">1</text>
<text class="b" transform="translate(356.2,415) scale(0.95,0.9)" fill="#e400e4" stroke="#e400e4">3</text>
<text class="b" transform="translate(368.6,282) scale(1,0.9)" fill="#0000c8" stroke="#0000c8" textLength="33.1" lengthAdjust="spacing" xml:space="preserve">w or a</text>
<text class="b" transform="translate(516.3,436) scale(1,0.9)" fill="#0000c8" stroke="#0000c8" textLength="29.3" lengthAdjust="spacing" xml:space="preserve">x or b</text>
<text class="b" transform="translate(606.3,215) scale(1.23,0.9)" fill="#e400e4" stroke="#e400e4">4</text>
<text class="b" transform="translate(580.5,232) scale(1,0.9)" fill="#0000c8" stroke="#0000c8" textLength="85.4" lengthAdjust="spacing" xml:space="preserve">y or c = 2930,32</text>
<text class="b" transform="translate(580.5,246) scale(1,0.9)" fill="#0000c8" stroke="#0000c8" textLength="55.8" lengthAdjust="spacing" xml:space="preserve">or 3079,96</text>
<text class="b" transform="translate(607.7,269) scale(0.95,0.9)" fill="#008080" stroke="#008080">c</text>
<text class="b" transform="translate(596.5,281) scale(0.95,0.9)" fill="#800080" stroke="#800080">c</text>
<text class="b" transform="translate(580.5,287) scale(0.95,0.9)" fill="#800080" stroke="#800080">a</text>
<text class="b" transform="translate(555.7,323) scale(0.95,0.9)" fill="#008080" stroke="#008080">a</text>
<text class="b" transform="translate(556.1,332.5) scale(0.95,0.9)" fill="#800080" stroke="#800080">c</text>
<text class="b" transform="translate(589.3,328) scale(0.95,0.9)" fill="#800080" stroke="#800080">b</text>
<text class="b" transform="translate(536.5,365) scale(0.95,0.9)" fill="#800080" stroke="#800080">a</text>
<text class="b" transform="translate(570.3,363) scale(0.95,0.9)" fill="#008080" stroke="#008080">b</text>
<text class="b" transform="translate(540.6,407) scale(0.95,0.9)" fill="#800080" stroke="#800080">b</text>
<text class="b" transform="translate(660.9,498) scale(0.95,0.9)" fill="#e400e4" stroke="#e400e4">5</text>
<text class="b" transform="translate(661.5,538) scale(0.95,0.9)" fill="#000" stroke="#000">c</text>
<text class="b" transform="translate(663.8,564.5) scale(0.95,0.9)" fill="#e00000" stroke="#e00000">y</text>
<text class="b" transform="translate(642.0,587) scale(1,0.9)" fill="#800080" stroke="#800080" textLength="61.5" lengthAdjust="spacing" xml:space="preserve">(IV) = 1.575</text>
<text class="b" transform="translate(655.7,601) scale(1,0.9)" fill="#800080" stroke="#800080" textLength="36.9" lengthAdjust="spacing" xml:space="preserve">or  less</text>
</svg></body></html>
